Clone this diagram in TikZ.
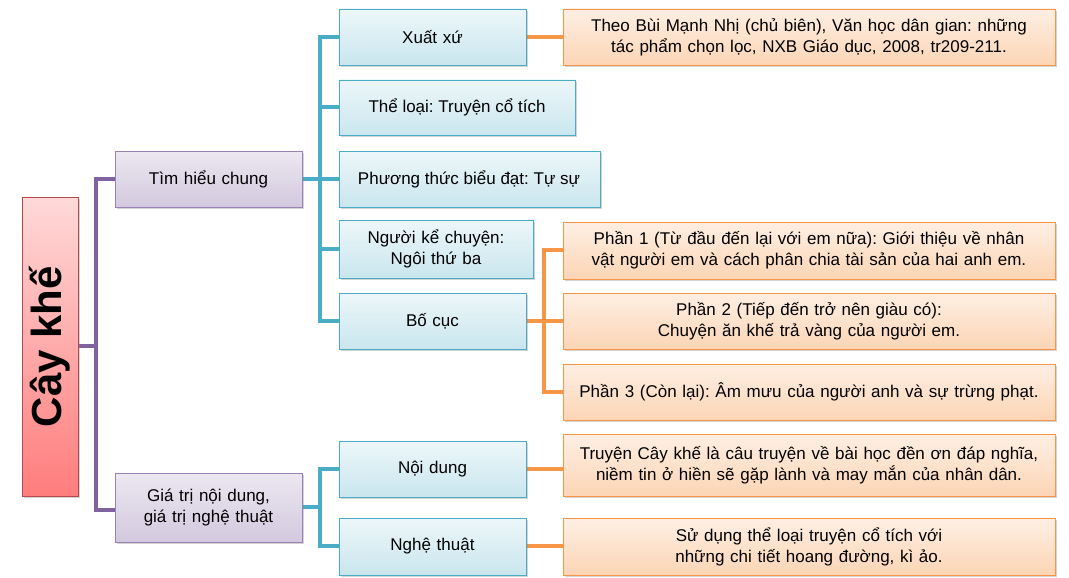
\documentclass[tikz,border=0pt]{standalone}
\usepackage{fontspec}
\setmainfont{Liberation Sans}
\usetikzlibrary{shadows}
\frenchspacing
\definecolor{pl}{HTML}{8064A2}\definecolor{cl}{HTML}{4BACC6}\definecolor{ol}{HTML}{F79646}
\tikzset{
 base/.style={draw, line width=0.8pt, inner sep=0pt, align=center, font=\fontsize{17}{21}\selectfont, drop shadow={opacity=0.35,shadow xshift=2pt,shadow yshift=-2pt}},
 rootb/.style={base, draw=red!40!gray, top color=red!15, bottom color=red!35!pink},
 pb/.style={base, draw=pl!80, top color=pl!15, bottom color=pl!35},
 cb/.style={base, draw=cl, top color=cl!10, bottom color=cl!30},
 ob/.style={base, draw=ol, top color=ol!15, bottom color=ol!40},
 pe/.style={pl, line width=3.5pt}, ce/.style={cl, line width=3.5pt}, oe/.style={ol, line width=3.5pt}
}
\newcommand{\bx}[6]{\node[#1, minimum width=#4pt-#3pt, minimum height=#6pt-#5pt, text width=#4pt-#3pt] (#2) at ({(#3+#4)/2},{(#5+#6)/2})}
\begin{document}
\begin{tikzpicture}[x=1pt,y=-1pt]
\useasboundingbox (0,0) rectangle (1069,578);
\draw[pe] (78,346) -- (96,346); \draw[pe] (115,179) -| (96,510) -- (115,510);
\draw[ce] (302,179) -- (339,179); \draw[ce] (339,37) -| (320,321) -- (339,321);
\draw[ce] (320,107) -- (339,107); \draw[ce] (320,249) -- (339,249);
\draw[ce] (302,507) -- (320,507); \draw[ce] (339,469) -| (320,546) -- (339,546);
\draw[oe] (526,37) -- (563,37); \draw[oe] (526,321) -- (563,321);
\draw[oe] (563,250) -| (544,392) -- (563,392);
\draw[oe] (526,469) -- (563,469); \draw[oe] (526,546) -- (563,546);
\bx{rootb}{r}{22}{78}{197}{496}{};
\node[rotate=90, font=\fontsize{42}{48}\selectfont\bfseries] at (r) {Cây khế};
\bx{pb}{a}{115}{302}{151}{207}{Tìm hiểu chung};
\bx{pb}{b}{115}{302}{473}{542}{Giá trị nội dung, giá trị nghệ thuật};
\bx{cb}{c1}{339}{526}{9}{65}{Xuất xứ};
\bx{cb}{c2}{339}{575}{80}{135}{};
\node[font=\fontsize{17}{21}\selectfont] at (457,107) {Thể loại: Truyện cổ tích};
\bx{cb}{c3}{339}{600}{151}{207}{};
\node[font=\fontsize{17}{21}\selectfont] at (469,179) {Phương thức biểu đạt: Tự sự};
\bx{cb}{c4}{339}{533}{220}{278}{Người kể chuyện: Ngôi thứ ba};
\bx{cb}{c5}{339}{526}{293}{349}{Bố cục};
\bx{cb}{c6}{339}{526}{441}{497}{Nội dung};
\bx{cb}{c7}{339}{526}{518}{575}{Nghệ thuật};
\bx{ob}{o1}{563}{1055}{9}{65}{Theo Bùi Mạnh Nhị (chủ biên), Văn học dân gian: những tác phẩm chọn lọc, NXB Giáo dục, 2008, tr209-211.};
\bx{ob}{o2}{563}{1055}{222}{279}{Phần 1 (Từ đầu đến lại với em nữa): Giới thiệu về nhân vật người em và cách phân chia tài sản của hai anh em.};
\bx{ob}{o3}{563}{1055}{293}{349}{Phần 2 (Tiếp đến trở nên giàu có): Chuyện ăn khế trả vàng của người em.};
\bx{ob}{o4}{563}{1055}{364}{420}{Phần 3 (Còn lại): Âm mưu của người anh và sự trừng phạt.};
\bx{ob}{o5}{563}{1055}{434}{496}{Truyện Cây khế là câu truyện về bài học đền ơn đáp nghĩa, niềm tin ở hiền sẽ gặp lành và may mắn của nhân dân.};
\bx{ob}{o6}{563}{1055}{518}{575}{Sử dụng thể loại truyện cổ tích với những chi tiết hoang đường, kì ảo.};
\end{tikzpicture}
\end{document}
